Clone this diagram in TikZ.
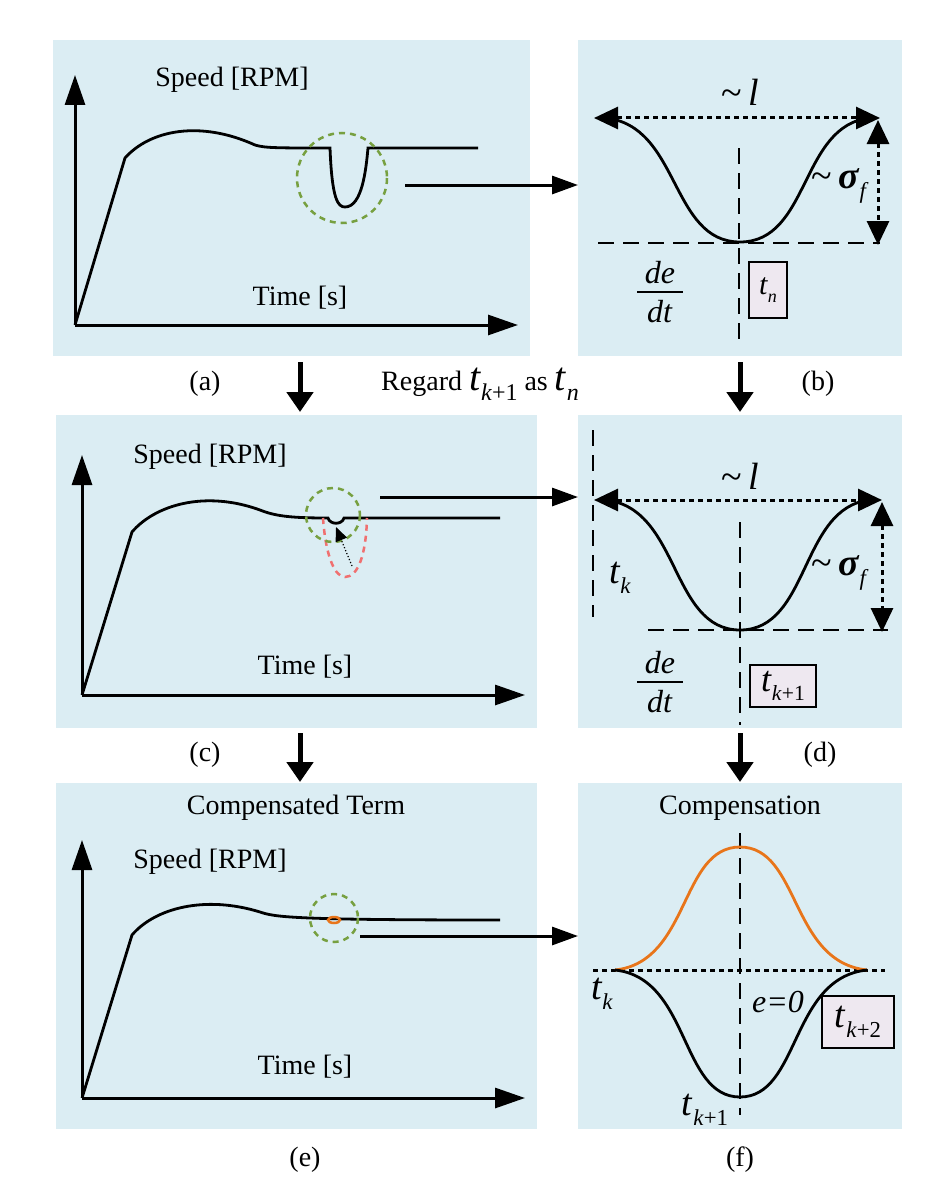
\documentclass[tikz,border=0pt]{standalone}
\usepackage{fontspec}
\setmainfont{Liberation Serif}
\usetikzlibrary{arrows.meta}
\definecolor{panel}{HTML}{DBEDF3}
\definecolor{grn}{HTML}{77A040}
\definecolor{rd}{HTML}{F07070}
\definecolor{org}{HTML}{E8751A}
\definecolor{boxf}{HTML}{EEE8F0}
\newcommand{\tsub}[3]{\textit{#1}\raisebox{-0.25em}{\fontsize{0.6em}{0.6em}\selectfont\textit{#2}#3}}
\begin{document}
\begin{tikzpicture}[x=1pt,y=-1pt,
  pan/.style={fill=panel,draw=none},
  lbl/.style={font=\fontsize{28}{30}\selectfont,inner sep=0},
  big/.style={font=\fontsize{38}{38}\selectfont,inner sep=0},
  ax/.style={line width=3pt,-{Triangle[length=30pt,width=20pt]}},
  crv/.style={line width=2.8pt},
  bigarr/.style={line width=3pt,-{Triangle[length=26pt,width=18pt]}},
  downarr/.style={line width=5pt,-{Triangle[length=20pt,width=26pt]}},
  dd/.style={line width=2.5pt,dash pattern=on 16pt off 9pt},
  dt/.style={line width=3pt,dash pattern=on 5pt off 4pt},
  dtarr/.style={dt,{Triangle[length=24pt,width=22pt]}-{Triangle[length=24pt,width=22pt]}},
  gcirc/.style={grn,line width=2.5pt,dash pattern=on 6pt off 5pt},
  tbox/.style={draw,line width=2.5pt,fill=boxf}]
\useasboundingbox (0,0) rectangle (950,1196);
% panels
\fill[pan] (53,40) rectangle (530,356);
\fill[pan] (578,40) rectangle (902,356);
\fill[pan] (56,415) rectangle (537,728);
\fill[pan] (578,415) rectangle (902,728);
\fill[pan] (56,783) rectangle (537,1129);
\fill[pan] (578,783) rectangle (902,1129);

% ---------- (a)
\coordinate (ao) at (75,325);
\draw[ax] (ao) -- (75,75);
\draw[ax] (ao) -- (518,325);
\draw[crv] (ao) -- (125,158) .. controls (150,130) and (200,120) .. (255,145) .. controls (265,148) and (275,148) .. (330,148)
  .. controls (332,200) and (338,207) .. (345,207) .. controls (362,207) and (366,170) .. (368,148) -- (478,148);
\draw[gcirc] (342,178) circle (45);
\node[lbl] (sa) at (232,80) {Speed [RPM]};
\node[lbl] (ta) at (300,298) {Time [s]};
\coordinate (a1) at (405,185);
\coordinate (b1) at (578,185);
\draw[bigarr] (a1) -- (b1);

% ---------- (b)
\draw[crv] (605,118) .. controls (680,125) and (670,242) .. (740,242) .. controls (810,242) and (800,125) .. (870,118);
\draw[dtarr] (594,118) -- (880,118);
\draw[dtarr] (878,120) -- (878,245);
\draw[dd] (598,243) -- (880,243);
\draw[dd] (739,148) -- (739,345);
\node[big] (lb) at (740,92) {\textasciitilde\,\textit{l}};
\node[big] (sb) at (840,186) {\textasciitilde\,\textbf{\textit{σ}}\raisebox{-0.25em}{\fontsize{0.6em}{0.6em}\selectfont\textit{f}}};
\node[lbl,font=\fontsize{32}{32}\selectfont] (deb) at (660,273) {\textit{de}};
\node[lbl,font=\fontsize{32}{32}\selectfont] (dtb) at (660,312) {\textit{dt}};
\draw[line width=1.3pt] (637,292) -- (683,292);
\node[tbox,minimum width=38pt,minimum height=56pt,inner sep=2pt,font=\fontsize{30}{30}\selectfont] (tn) at (768,290) {\tsub{t}{n}{}};

% between
\node[lbl] (la) at (205,384) {(a)};
\node[lbl] (lbb) at (818,384) {(b)};
\node[lbl] (reg) at (480,384) {Regard {\fontsize{40}{40}\selectfont\tsub{t}{k}{+1}} as {\fontsize{40}{40}\selectfont\tsub{t}{n}{}}};
\draw[downarr] (300,362) -- (300,412);
\draw[downarr] (740,362) -- (740,412);

% ---------- (c)
\coordinate (co) at (82,695);
\draw[ax] (co) -- (82,455);
\draw[ax] (co) -- (525,695);
\draw[crv] (co) -- (132,532) .. controls (155,505) and (205,490) .. (260,510) .. controls (275,516) and (290,518) .. (328,518)
  .. controls (330,525) and (342,525) .. (344,518) -- (500,518);
\draw[rd,line width=2.5pt,dash pattern=on 6pt off 5pt] (323,518) .. controls (326,560) and (336,577) .. (345,577) .. controls (358,577) and (366,555) .. (367,518);
\draw[gcirc] (333,515) circle (27);
\draw[dotted,line width=1.2pt,-{Triangle[length=14pt,width=12pt]}] (352,566) -- (336,527);
\node[lbl] (sc) at (210,457) {Speed [RPM]};
\node[lbl] (tc) at (305,667) {Time [s]};
\coordinate (c1) at (380,497);
\coordinate (d1) at (578,497);
\draw[bigarr] (c1) -- (d1);

% ---------- (d)
\draw[dd] (593,430) -- (593,617);
\draw[crv] (605,500) .. controls (680,507) and (670,630) .. (740,630) .. controls (810,630) and (800,507) .. (870,500);
\draw[dtarr] (594,500) -- (882,500);
\draw[dtarr] (882,502) -- (882,632);
\draw[dd] (648,630) -- (888,630);
\draw[dd] (740,522) -- (740,725);
\node[big] (ld) at (740,476) {\textasciitilde\,\textit{l}};
\node[big] (sd) at (840,573) {\textasciitilde\,\textbf{\textit{σ}}\raisebox{-0.25em}{\fontsize{0.6em}{0.6em}\selectfont\textit{f}}};
\node[big] (tkd) at (620,578) {\tsub{t}{k}{}};
\node[lbl,font=\fontsize{32}{32}\selectfont] (ded) at (660,663) {\textit{de}};
\node[lbl,font=\fontsize{32}{32}\selectfont] (dtd) at (660,702) {\textit{dt}};
\draw[line width=1.3pt] (637,682) -- (683,682);
\node[tbox,minimum width=66pt,minimum height=42pt,inner sep=2pt,font=\fontsize{36}{36}\selectfont] (tk1) at (783,686) {\tsub{t}{k}{+1}};

\node[lbl] (lc) at (205,755) {(c)};
\node[lbl] (ldd) at (820,755) {(d)};
\draw[downarr] (300,733) -- (300,782);
\draw[downarr] (740,733) -- (740,782);

% ---------- (e)
\node[lbl] (ce) at (296,808) {Compensated Term};
\node[lbl] (se) at (210,862) {Speed [RPM]};
\coordinate (eo) at (82,1098);
\draw[ax] (eo) -- (82,840);
\draw[ax] (eo) -- (525,1098);
\draw[crv] (eo) -- (132,935) .. controls (155,908) and (205,895) .. (260,912) .. controls (275,917) and (290,920) .. (500,920);
\draw[org,line width=2.5pt] (334,920) ellipse (6 and 3);
\draw[gcirc] (334,918) circle (24);
\node[lbl] (te) at (305,1067) {Time [s]};
\coordinate (e1) at (360,936);
\coordinate (f1) at (578,936);
\draw[bigarr] (e1) -- (f1);
\node[lbl] (le) at (305,1160) {(e)};
\node[lbl] (lf) at (740,1160) {(f)};

% ---------- (f)
\node[lbl] (cf) at (740,808) {Compensation};
\draw[dt] (593,970) -- (885,970);
\draw[dd] (740,833) -- (740,1115);
\draw[org,crv] (615,970) .. controls (690,962) and (680,847) .. (740,847) .. controls (800,847) and (790,962) .. (867,970);
\draw[crv] (615,970) .. controls (690,978) and (680,1097) .. (740,1097) .. controls (800,1097) and (790,978) .. (867,970);
\node[big] (tkf) at (602,994) {\tsub{t}{k}{}};
\node[lbl,font=\fontsize{32}{32}\selectfont] (e0) at (778,1002) {\textit{e=0}};
\node[tbox,minimum width=72pt,minimum height=52pt,inner sep=2pt,font=\fontsize{38}{38}\selectfont] (tk2) at (858,1022) {\tsub{t}{k}{+2}};
\node[big] (tk1f) at (705,1110) {\tsub{t}{k}{+1}};
\end{tikzpicture}
\end{document}
